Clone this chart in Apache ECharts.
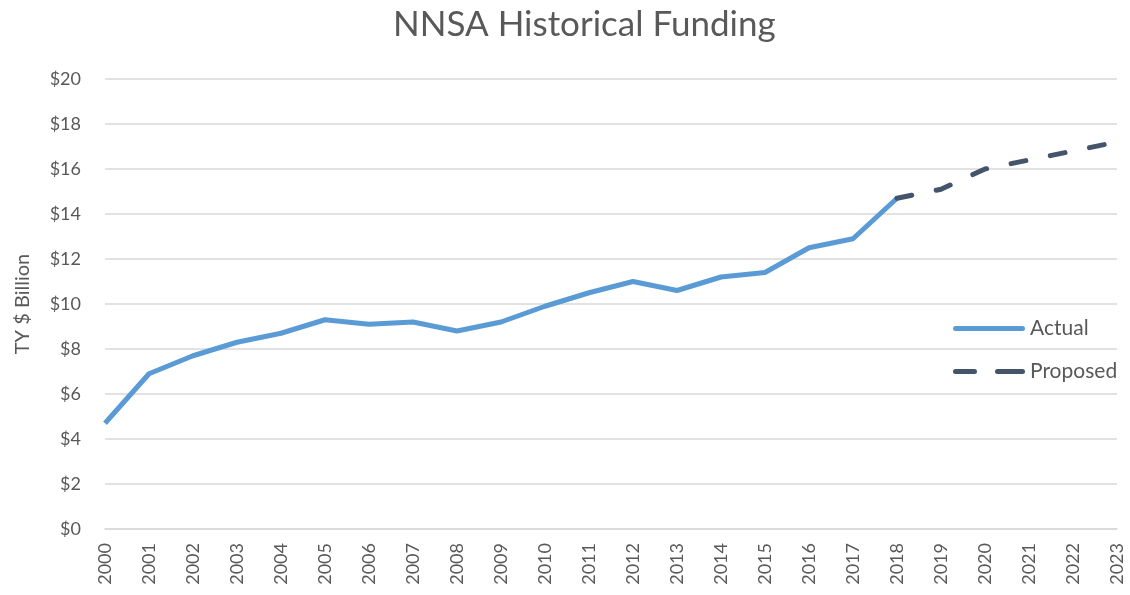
<!DOCTYPE html>
<html>
<head>
<meta charset="utf-8">
<script src="https://cdn.jsdelivr.net/npm/echarts@6/dist/echarts.min.js"></script>
<style>
  html, body { margin: 0; padding: 0; background: #fff; }
  #chart { width: 1130px; height: 595px; }
</style>
</head>
<body>
<div id="chart"></div>
<script>
const years = ['2000','2001','2002','2003','2004','2005','2006','2007','2008','2009','2010','2011',
  '2012','2013','2014','2015','2016','2017','2018','2019','2020','2021','2022','2023']
const actual = [4.7, 6.9, 7.7, 8.3, 8.7, 9.3, 9.1, 9.2, 8.8, 9.2, 9.9, 10.5,
  11.0, 10.6, 11.2, 11.4, 12.5, 12.9, 14.7, null, null, null, null, null]
const proposed = [null, null, null, null, null, null, null, null, null, null, null, null,
  null, null, null, null, null, null, 14.7, 15.1, 16.0, 16.4, 16.8, 17.2]

const font = 'Lato, "Noto Sans", sans-serif'
const grey = '#595959'

// legend swatches drawn as paths so they get the thick line / dash look
const solidIcon = 'path://M2.5,0 L69.5,0 A2.5,2.5 0 0 1 69.5,5 L2.5,5 A2.5,2.5 0 0 1 2.5,0 Z'
const dashIcon = 'path://M2.5,0 L21.5,0 A2.5,2.5 0 0 1 21.5,5 L2.5,5 A2.5,2.5 0 0 1 2.5,0 Z ' +
  'M44.5,0 L69.5,0 A2.5,2.5 0 0 1 69.5,5 L44.5,5 A2.5,2.5 0 0 1 44.5,0 Z'

const chart = echarts.init(document.getElementById('chart'), null, { renderer: 'canvas' })
chart.setOption({
  backgroundColor: '#fff',
  animation: false,
  title: {
    text: 'NNSA Historical Funding',
    left: 388,
    top: 2,
    textStyle: { color: grey, fontSize: 35, fontWeight: 'normal', fontFamily: font }
  },
  legend: {
    orient: 'vertical',
    left: 948,
    top: 313,
    itemWidth: 72,
    itemHeight: 5,
    itemGap: 22,
    textStyle: { color: grey, fontSize: 21, fontFamily: font },
    data: [
      { name: 'Actual', icon: solidIcon },
      { name: 'Proposed', icon: dashIcon }
    ]
  },
  grid: { left: 105, right: 13, top: 79, bottom: 66 },
  xAxis: {
    type: 'category',
    data: years,
    boundaryGap: false,
    axisLine: { lineStyle: { color: '#d9d9d9', width: 1.5 } },
    axisTick: { show: false },
    axisLabel: { rotate: 90, color: grey, fontSize: 18, fontFamily: font, margin: 14, interval: 0 }
  },
  yAxis: {
    type: 'value',
    min: 0,
    max: 20,
    interval: 2,
    name: 'TY $ Billion',
    nameLocation: 'middle',
    nameGap: 72,
    nameTextStyle: { color: grey, fontSize: 20, fontFamily: font },
    axisLine: { show: false },
    axisTick: { show: false },
    axisLabel: { color: grey, fontSize: 18, fontFamily: font, margin: 24, formatter: v => '$' + v },
    splitLine: { lineStyle: { color: '#d9d9d9', width: 1.5 } }
  },
  series: [
    {
      name: 'Actual',
      type: 'line',
      data: actual,
      symbol: 'none',
      lineStyle: { color: '#5b9bd5', width: 5 },
      itemStyle: { color: '#5b9bd5' }
    },
    {
      name: 'Proposed',
      type: 'line',
      data: proposed,
      symbol: 'none',
      lineStyle: { color: '#44546a', width: 5, type: [15, 25], cap: 'round' },
      itemStyle: { color: '#44546a' }
    }
  ]
})
</script>
</body>
</html>
